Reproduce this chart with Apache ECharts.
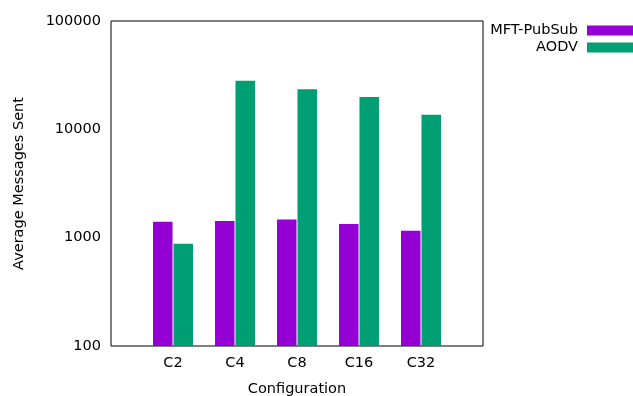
<!DOCTYPE html>
<html>
<head>
<meta charset="utf-8">
<script src="https://cdn.jsdelivr.net/npm/echarts@6/dist/echarts.min.js"></script>
<style>html,body{margin:0;padding:0;background:#fff}#c{width:633px;height:396px}</style>
</head>
<body>
<div id="c"></div>
<script>
var categories = ['', 'C2', 'C4', 'C8', 'C16', 'C32', ''];
var mftPubSub = [null, 1400, 1425, 1475, 1337, 1160, null];
var aodv = [null, 878, 28100, 23500, 19900, 13650, null];
var yTicks = [100, 1000, 10000, 100000];

var chart = echarts.init(document.getElementById('c'));
var font = 'DejaVu Sans';
var fs = 14.5;
chart.setOption({
  animation: false,
  textStyle: { fontFamily: font },
  grid: { left: 111, right: 150, top: 21, bottom: 50, outerBoundsMode: 'none', containLabel: false, show: true, borderColor: '#000', borderWidth: 1, backgroundColor: 'transparent' },
  legend: {
    right: 0, top: 23, orient: 'vertical', align: 'right', padding: 0,
    itemWidth: 46, itemHeight: 10, itemGap: 2,
    textStyle: { fontFamily: font, fontSize: fs, color: '#000', padding: [0, 4, 0, 0] },
    data: [
      { name: 'MFT-PubSub', icon: 'rect' },
      { name: 'AODV', icon: 'rect' }
    ]
  },
  xAxis: {
    type: 'category', data: categories, boundaryGap: false,
    axisLine: { show: false }, axisTick: { show: false },
    axisLabel: { fontFamily: font, fontSize: fs, color: '#000', margin: 10, interval: 0 },
    splitLine: { show: false },
    name: 'Configuration', nameLocation: 'middle', nameGap: 36,
    nameTextStyle: { fontFamily: font, fontSize: fs, color: '#000' }
  },
  yAxis: {
    type: 'log', logBase: 10, min: 100, max: 100000,
    axisLine: { show: false }, axisTick: { show: false },
    splitLine: { show: false }, minorTick: { show: false },
    axisLabel: { fontFamily: font, fontSize: fs, color: '#000', margin: 10,
      formatter: function (v) { return yTicks.indexOf(Math.round(v)) >= 0 ? String(Math.round(v)) : ''; } },
    name: 'Average Messages Sent', nameLocation: 'middle', nameGap: 84,
    nameTextStyle: { fontFamily: font, fontSize: fs, color: '#000' }
  },
  series: [
    { name: 'MFT-PubSub', type: 'bar', data: mftPubSub, barWidth: 19.5, barGap: '5%', itemStyle: { color: '#9400D3' } },
    { name: 'AODV', type: 'bar', data: aodv, barWidth: 19.5, barGap: '5%', itemStyle: { color: '#009E73' } }
  ]
});
</script>
</body>
</html>
